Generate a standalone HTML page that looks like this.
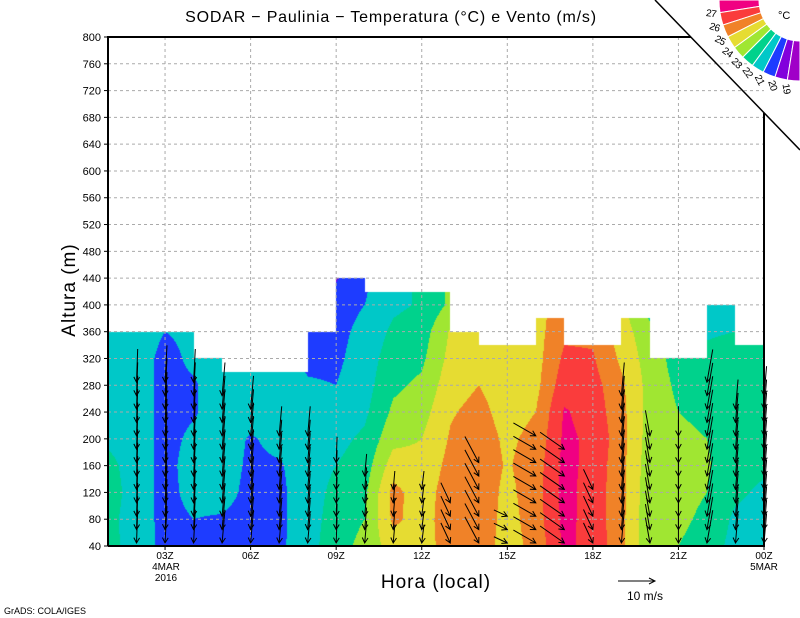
<!DOCTYPE html>
<html><head><meta charset="utf-8"><style>
body{margin:0;background:#fff;width:800px;height:618px;overflow:hidden;position:relative;font-family:"Liberation Sans",sans-serif}
canvas,svg{position:absolute;left:0;top:0}
</style></head><body>
<canvas id="cv" width="800" height="618"></canvas>
<svg id="sv" width="800" height="618"></svg>
<script>
// ---- data ----
const hours=[1,2,3,4,5,6,7,8,9,10,11,12,13,14,15,16,17,18,19,20,21,22,23,24];
const heights=[40,80,120,160,200,240,280,320,360,400,440];
const temps=[
[22.3,22.3,22.5,22.3,21.8,21.5,21.5,21.5,21.5],
[21.6,21.5,21.5,21.5,21.5,21.5,21.5,21.5,21.5],
[20.7,20.7,20.7,20.7,20.7,20.7,20.7,20.7,21.0],
[20.8,21.0,21.3,21.4,21.2,20.9,20.9,21.2,21.2],
[20.8,20.9,21.4,21.5,21.5,21.5,21.5,21.5,21.5],
[20.6,20.6,20.7,20.8,20.9,21.5,21.5,21.8,21.8],
[20.8,20.8,20.8,20.9,21.3,21.5,21.5,21.5,21.5],
[21.6,21.5,21.5,21.5,21.5,21.4,21.1,20.8,20.7,20.7],
[22.6,22.5,22.3,22.0,21.7,21.3,21.0,20.8,20.7,20.6,19.9],
[23.3,23.0,22.8,22.5,22.2,21.8,21.6,21.5,21.3,21.0,20.8],
[24.5,25.2,25.3,24.5,23.7,23.2,22.8,22.5,22.2,21.8,21.8],
[24.8,24.6,24.5,24.3,24.0,23.6,23.2,22.8,22.5,22.1,22.1],
[25.2,25.5,25.5,25.3,25.1,24.9,24.6,24.3,24.1,23.2,23.2],
[25.5,25.7,25.7,25.6,25.5,25.3,25.0,24.6,24.4],
[24.6,24.6,24.7,24.9,24.8,24.6,24.5,24.4,24.3],
[25.3,25.5,25.6,25.5,25.3,25.0,24.7,24.6,24.6],
[27.2,27.3,27.3,27.3,27.2,27.1,26.6,26.2,25.8,25.5],
[26.7,26.6,26.6,26.7,26.8,26.6,26.4,26.1,25.8],
[25.3,25.3,25.3,25.3,25.4,25.3,25.2,24.8,24.5,24.3],
[23.2,23.2,23.3,23.4,23.5,23.6,23.6,23.5,23.3,22.5],
[23.0,23.2,23.3,23.3,23.3,23.0,22.8,22.6],
[22.6,22.8,23.0,23.1,23.0,22.7,22.4,22.2,21.9,21.6],
[21.6,21.8,22.2,22.4,22.5,22.5,22.5,22.4,22.0,21.7],
[21.5,21.6,21.8,22.2,22.5,22.5,22.5,22.5,22.3]
];
const cellTops=[360,360,360,320,300,300,300,360,440,420,420,420,360,340,340,380,340,340,380,320,320,400,340];
const windHours=[2,3,4,5,6,7,8,9,10,11,12,13,14,15,16,17,18,19,20,21,22,23,24];
const windAngle=[92,93,93,95,95,95,95,92,95,95,97,65,62,25,30,35,65,95,80,90,100,95,95];
const windSpeed=[9,10,9,9,9,8,8,7,6,5,5,6,8,4,7,8,6,9,7,8,9,8,8];
const windTop=[280,280,280,260,240,200,200,160,140,120,120,100,160,80,200,180,120,260,200,200,280,240,260];
const levels=[19,20,21,22,23,24,25,26,27];
const colors=["#a000c8","#8200dc","#1e3cff","#00c8c8","#00d28c","#a0e632","#e6dc32","#f08228","#fa3c3c","#f00082"];
const yTicks=[40,80,120,160,200,240,280,320,360,400,440,480,520,560,600,640,680,720,760,800];
const xTickHours=[3,6,9,12,15,18,21,24];
const xTickLabels=["03Z","06Z","09Z","12Z","15Z","18Z","21Z","00Z"];

// ---- axes ----
const X0=108,X1=764,Y0=546,Y1=37;
const xs=h=>X0+(h-1)*(X1-X0)/23;
const ys=z=>Y0-(z-40)*(Y0-Y1)/760;
const zOf=y=>40+(Y0-y)*760/(Y0-Y1);
function colorOf(t){let i=0;while(i<levels.length&&t>=levels[i])i++;return colors[i];}
function T(hi,zi){const c=temps[hi];return c[Math.min(zi,c.length-1)];}
function interp(h,z){
  let fi=Math.max(0,Math.min(22.999,h-1)),i=Math.floor(fi),a=fi-i;
  let fz=Math.max(0,Math.min(9.999,(z-40)/40)),j=Math.floor(fz),b=fz-j;
  return (1-a)*((1-b)*T(i,j)+b*T(i,j+1))+a*((1-b)*T(i+1,j)+b*T(i+1,j+1));
}
const cv=document.getElementById('cv').getContext('2d');
for(let px=X0;px<X1;px++){
  const h=1+(px+0.5-X0)*23/(X1-X0);
  const k=Math.min(22,Math.floor(h-1));
  const yt=Math.round(ys(cellTops[k]));
  for(let py=yt;py<Y0;py++){
    cv.fillStyle=colorOf(interp(h,zOf(py+0.5)));
    cv.fillRect(px,py,1,1);
  }
}
const NS='http://www.w3.org/2000/svg';
const sv=document.getElementById('sv');
function mk(tag,attrs,parent){const e=document.createElementNS(NS,tag);for(const k in attrs)e.setAttribute(k,attrs[k]);(parent||sv).appendChild(e);return e;}
// grid
const grid=mk('g',{stroke:'#aaa','stroke-width':1,'stroke-dasharray':'3,3'});


yTicks.forEach(z=>{if(z>40&&z<800)mk('line',{x1:X0,x2:X1,y1:ys(z),y2:ys(z)},grid);});
xTickHours.forEach(h=>{if(h<24)mk('line',{x1:xs(h),x2:xs(h),y1:Y1,y2:Y0},grid);});
// wind arrows (head at the data point, tail upstream)
const wg=mk('g',{stroke:'#000','stroke-width':1,fill:'none'});


windHours.forEach((h,i)=>{
  const a=windAngle[i]*Math.PI/180,L=windSpeed[i]*3.7;
  const dx=Math.cos(a)*L,dy=Math.sin(a)*L;
  for(let z=40;z<=windTop[i];z+=20){
    const x2=xs(h),y2=ys(z)-3;
    const ar=mk('path',{d:`M${x2-dx},${y2-dy}L${x2},${y2}M${x2-6*Math.cos(a-0.5)},${y2-6*Math.sin(a-0.5)}L${x2},${y2}L${x2-6*Math.cos(a+0.5)},${y2-6*Math.sin(a+0.5)}`},wg);
    
    
  }
});
// frame
const fr=mk('path',{d:`M${X0},${Y0}L${X0},${Y1}L691,${Y1}M${X1},113L${X1},${Y0}L${X0},${Y0}`,stroke:'#000','stroke-width':2,fill:'none'});


const dg=mk('line',{x1:655,y1:0,x2:800,y2:150,stroke:'#000','stroke-width':1.5});


// y ticks
yTicks.forEach(z=>{
  const t=mk('text',{x:101,y:ys(z)+4,'font-size':11,'text-anchor':'end'});t.textContent=z;
  
  
  mk('line',{x1:X0-4,x2:X0,y1:ys(z),y2:ys(z),stroke:'#000'});
});
xTickHours.forEach((h,i)=>{
  const t=mk('text',{x:xs(h),y:559,'font-size':10,'text-anchor':'middle'});t.textContent=xTickLabels[i];
  
  
  mk('line',{x1:xs(h),x2:xs(h),y1:Y0,y2:Y0+4,stroke:'#000'});
});
function txt(s,attrs,name){const t=mk('text',attrs);t.textContent=s;
  
  return t;}
txt('4MAR',{x:166,y:570,'font-size':10,'text-anchor':'middle'},'date-label-start');
txt('2016',{x:166,y:581,'font-size':10,'text-anchor':'middle'},'year-label');
txt('5MAR',{x:764,y:570,'font-size':10,'text-anchor':'middle'},'date-label-end');
txt('SODAR − Paulinia − Temperatura (°C) e Vento (m/s)',{x:391,y:22,'font-size':16,'text-anchor':'middle','letter-spacing':'0.8'},'chart-title');
txt('Hora (local)',{x:436,y:588,'font-size':19,'text-anchor':'middle','letter-spacing':'1'},'x-axis-title');
txt('Altura (m)',{x:0,y:0,'font-size':19,'text-anchor':'middle','letter-spacing':'1',transform:'translate(75,290) rotate(-90)'},'y-axis-title');
txt('10 m/s',{x:627,y:600,'font-size':12},'wind-scale-label');
const rf=mk('path',{d:'M618,581L655,581M649,578L655,581L649,584',stroke:'#000',fill:'none'});


txt('GrADS: COLA/IGES',{x:4,y:614,'font-size':9},'credit-label');
// color legend ring
const lg=mk('g',{});


const cxL=800,cyL=0,r0=41,r1=81;
for(let i=0;i<10;i++){
  const a0=(180-9*i)*Math.PI/180,a1=(180-9*(i+1))*Math.PI/180;
  const p=(r,a)=>`${cxL+r*Math.cos(a)},${cyL+r*Math.sin(a)}`;
  const seg=mk('path',{d:`M${p(r0,a0)}L${p(r1,a0)}A${r1},${r1} 0 0 0 ${p(r1,a1)}L${p(r0,a1)}A${r0},${r0} 0 0 1 ${p(r0,a0)}Z`,fill:colors[9-i],stroke:'#fff','stroke-width':1},lg);
  
  
}
levels.slice().reverse().forEach((v,i)=>{
  const ang=180-9*(i+1),a=ang*Math.PI/180;
  const x=cxL+90*Math.cos(a),y=cyL+90*Math.sin(a);
  const t=mk('text',{x:x,y:y,'font-size':10,'text-anchor':'middle','dominant-baseline':'middle','letter-spacing':'-0.5',transform:`rotate(${180-ang},${x},${y})`},lg);
  t.textContent=v;
  
  
});
txt('°C',{x:778,y:19,'font-size':11},'legend-unit');
</script>
</body></html>
